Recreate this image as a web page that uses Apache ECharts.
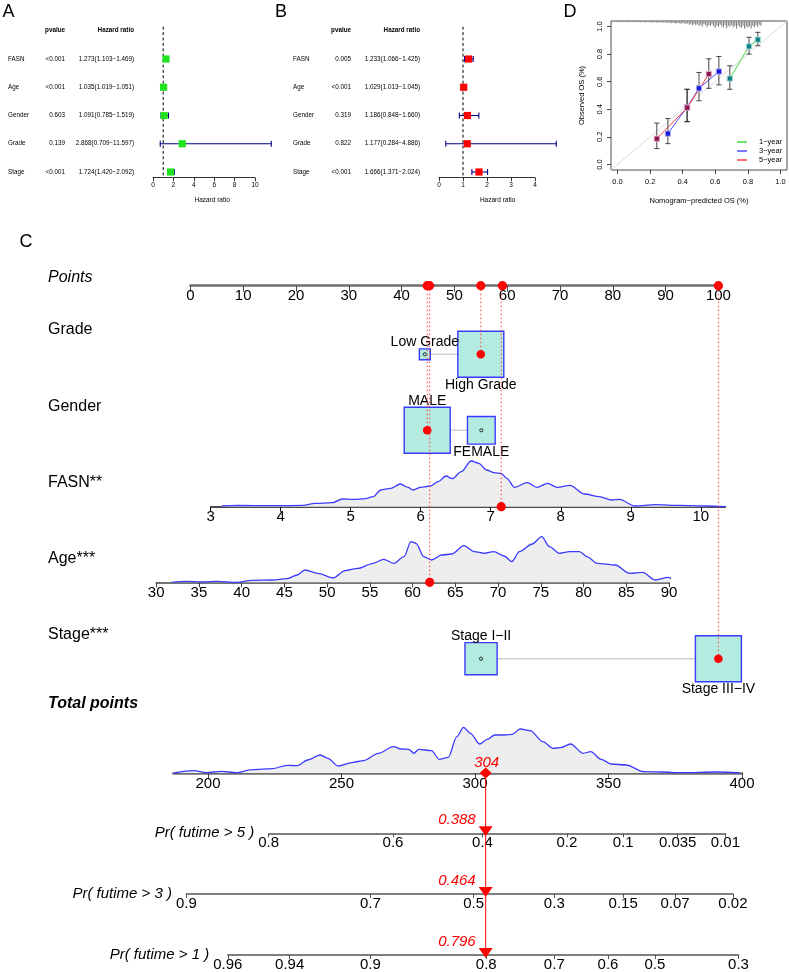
<!DOCTYPE html>
<html><head><meta charset="utf-8">
<script src="https://cdn.jsdelivr.net/npm/echarts@6/dist/echarts.min.js"></script>
<style>html,body{margin:0;padding:0;background:#fff;}#chart{width:789px;height:972px;}</style>
</head><body><div id="chart"></div>
<script>
// ================= DATA =================
// Panel A / B : forest plots
const forestVars = ['FASN','Age','Gender','Grade','Stage'];
const uniPvalue = ['<0.001','<0.001','0.603','0.139','<0.001'];
const uniHR   = [1.273,1.035,1.091,2.868,1.724];
const uniLow  = [1.103,1.019,0.785,0.709,1.420];
const uniHigh = [1.469,1.051,1.519,11.597,2.092];
const multiPvalue = ['0.005','<0.001','0.319','0.822','<0.001'];
const multiHR   = [1.233,1.029,1.186,1.177,1.666];
const multiLow  = [1.066,1.013,0.848,0.284,1.371];
const multiHigh = [1.425,1.045,1.660,4.886,2.024];
const uniTicks = [0,2,4,6,8,10];
const multiTicks = [0,1,2,3,4];

// Panel D : calibration
const calTicks = [0,0.2,0.4,0.6,0.8,1.0];
const cal1X = [0.689,0.807,0.861], cal1Y = [0.623,0.856,0.905], cal1Lo = [0.545,0.800,0.861], cal1Hi = [0.715,0.922,0.958];
const cal3X = [0.309,0.426,0.500,0.622], cal3Y = [0.224,0.414,0.552,0.674], cal3Lo = [0.151,0.309,0.462,0.577], cal3Hi = [0.333,0.545,0.667,0.783];
const cal5X = [0.241,0.428,0.560], cal5Y = [0.187,0.412,0.655], cal5Lo = [0.115,0.312,0.552], cal5Hi = [0.300,0.545,0.766];
const calNames = ['1−year','3−year','5−year'];
// spike histogram of predicted values (bins of 0.01 starting at 0)
const rugStart = 0, rugStep = 0.01;
const rugH = [0.003,0.002,0.004,0.002,0.003,0.002,0.005,0.003,0.002,0.004,0.003,
  0.002,0.004,0.003,0.005,0.002,0.003,0.006,0.004,0.003,0.005,
  0.004,0.006,0.003,0.005,0.007,0.004,0.006,0.008,0.005,0.007,
  0.009,0.006,0.012,0.008,0.010,0.014,0.009,0.011,0.016,0.010,
  0.013,0.018,0.012,0.022,0.015,0.028,0.017,0.024,0.020,0.030,
  0.022,0.035,0.018,0.026,0.040,0.024,0.030,0.019,0.033,0.045,
  0.028,0.038,0.022,0.034,0.042,0.026,0.048,0.030,0.036,0.025,
  0.040,0.032,0.050,0.028,0.038,0.045,0.030,0.052,0.036,0.042,
  0.034,0.048,0.030,0.040,0.026,0.038,0.022,0.030];

// Panel C : nomogram
const nomoLabels = ['Points','Grade','Gender','FASN**','Age***','Stage***','Total points'];
const pointsTicks = [0,10,20,30,40,50,60,70,80,90,100];
const gradeCats = ['Low Grade','High Grade'], gradePts = [44.4,55.0], gradeN = [20,355];
const genderCats = ['MALE','FEMALE'], genderPts = [44.85,55.1], genderN = [275,100];
const stageCats = ['Stage I−II','Stage III−IV'], stagePts = [55.05,100], stageN = [123,252];
const fasnTicks = [3,4,5,6,7,8,9,10];
const fasnX = [3.16,3.38,3.96,4.32,4.49,4.74,4.88,5.03,5.21,5.32,5.43,5.57,5.71,5.82,5.89,6.00,6.14,6.25,6.36,6.45,6.58,6.72,6.83,6.94,7.05,7.15,7.23,7.34,7.52,7.66,7.81,7.95,8.13,8.34,8.55,8.73,8.84,9.06,9.35,9.71,10.07,10.36];
const fasnD = [0.007,0.013,0.010,0.013,0.033,0.040,0.077,0.073,0.080,0.100,0.167,0.183,0.227,0.193,0.167,0.193,0.207,0.250,0.307,0.280,0.350,0.457,0.433,0.367,0.340,0.333,0.283,0.193,0.240,0.193,0.233,0.193,0.213,0.127,0.100,0.067,0.073,0.007,0.020,0.013,0.007,0.000];
const ageTicks = [30,35,40,45,50,55,60,65,70,75,80,85,90];
const ageX = [31.8,33.5,35.3,37.1,39.4,41.2,43.6,45.3,46.5,47.4,48.9,50.7,52.1,53.6,55.4,56.6,57.8,59.0,59.8,60.4,61.3,62.2,63.4,64.6,66.0,67.2,68.4,69.5,70.7,71.6,72.5,74.0,75.1,76.0,77.2,78.4,79.5,80.4,81.6,83.7,85.4,86.9,88.4,89.9,90.8,91.6];
const ageD = [0,0.010,0.003,0.010,0,0.020,0.023,0.037,0.073,0.123,0.090,0.043,0.117,0.140,0.190,0.230,0.190,0.257,0.407,0.390,0.257,0.223,0.273,0.283,0.367,0.307,0.290,0.307,0.263,0.207,0.307,0.383,0.457,0.357,0.290,0.307,0.307,0.257,0.190,0.173,0.090,0.100,0.023,0.050,0.023,0];
const totalTicks = [200,250,300,350,400];
const totX = [187.2,194.7,199.4,205.0,210.8,216.5,224.0,229.7,233.5,237.3,242.0,244.9,248.7,254.4,258.2,263.8,269.5,272.4,275.2,277.1,279.0,283.7,286.6,290.0,293.2,295.7,298.3,301.7,304.6,307.4,311.2,314.0,316.9,320.7,325.4,329.2,332.0,335.8,340.5,343.4,347.2,351.0,356.6,363.2,369.9,377.4,390.6,399.1];
const totD = [0,0.023,0.003,0.017,0.003,0.033,0.043,0.077,0.073,0.130,0.180,0.147,0.070,0.107,0.123,0.197,0.263,0.240,0.237,0.197,0.237,0.223,0.137,0.157,0.363,0.457,0.397,0.290,0.337,0.380,0.380,0.387,0.440,0.423,0.313,0.247,0.253,0.290,0.197,0.213,0.137,0.090,0.080,0.013,0.010,0.003,0.010,0];
// patient
const patientGrade = 'High Grade', patientGender = 'MALE', patientFASN = 7.15, patientAge = 62, patientStage = 'Stage III−IV';
const patientPoints = [55.0,44.85,59.1,45.3,100];
const patientTotal = 304;
// probability axes (positions in total-points units)
const pr5Labels = ['0.8','0.6','0.4','0.2','0.1','0.035','0.01'];
const pr5Pos = [222.7,269.3,302.8,334.4,355.5,375.9,393.8];
const pr3Labels = ['0.9','0.7','0.5','0.3','0.15','0.07','0.02'];
const pr3Pos = [191.9,260.8,299.5,329.7,355.5,374.9,396.6];
const pr1Labels = ['0.96','0.94','0.9','0.8','0.7','0.6','0.5','0.3'];
const pr1Pos = [207.4,230.6,260.8,304.2,329.7,349.8,367.4,398.7];
const prNames = ['Pr( futime > 5 )','Pr( futime > 3 )','Pr( futime > 1 )'];
const prPatient = [0.388,0.464,0.796];

// ================= HELPERS =================
const FONT = "'Liberation Sans', Arial, Helvetica, sans-serif";
const chart = echarts.init(document.getElementById('chart'));
const grids = [], xAxis = [], yAxis = [], series = [], graphic = [];
function addGrid(g, xa, ya){
  const i = grids.length;
  grids.push(Object.assign({show:false, containLabel:false, outerBoundsMode:'none'}, g));
  xa = Object.assign({type:'value', gridIndex:i, splitLine:{show:false}}, xa);
  ya = Object.assign({type:'value', gridIndex:i, splitLine:{show:false}}, ya);
  xa.axisLine = Object.assign({onZero:false}, xa.axisLine || {});
  ya.axisLine = Object.assign({onZero:false}, ya.axisLine || {});
  xAxis.push(xa); yAxis.push(ya);
  return i;
}
function txt(x, y, text, o){
  o = o || {};
  return {type:'text', x:x, y:y, z2:o.z2 || 10, style:{text:text, fill:o.fill || '#000', fontSize:o.size || 6.3, fontFamily:FONT,
    fontStyle:o.italic ? 'italic' : 'normal', fontWeight:o.bold ? 'bold' : 'normal', align:o.align || 'left', verticalAlign:o.va || 'middle'}};
}
function seg(x1, y1, x2, y2, stroke, w, dash){
  return {type:'line', shape:{x1:x1, y1:y1, x2:x2, y2:y2}, style:{stroke:stroke, lineWidth:w || 1, lineDash:dash || null, fill:null}};
}
function zip(a, b){ return a.map((v, i) => [v, b[i]]); }
function nearestIdx(arr, v){ let bi = 0; arr.forEach((p, i) => { if (Math.abs(p - v) < Math.abs(arr[bi] - v)) bi = i; }); return bi; }

// ================= PANELS A & B =================
const FP = {row0:59, step:28.25, top:26, bottom:177.7};
function forestPanel(c){
  const maxX = Math.max(...c.hi);
  const yMin = (FP.top - FP.row0) / FP.step, yMax = (FP.bottom - FP.row0) / FP.step;
  const yA = () => ({min:yMin, max:yMax, inverse:true, show:false});
  const h = FP.bottom - FP.top;
  const g = addGrid({left:c.left, top:FP.top, width:maxX * c.scale, height:h},
    {min:0, max:maxX, axisLine:{show:false}, axisTick:{show:false}, axisLabel:{show:false},
     name:'Hazard ratio', nameLocation:'middle', nameGap:19, nameTextStyle:{fontSize:6.5, color:'#000', fontFamily:FONT}}, yA());
  const tMax = c.ticks[c.ticks.length - 1];
  addGrid({left:c.left, top:FP.top, width:tMax * c.scale, height:h},
    {min:c.ticks[0], max:tMax, interval:c.ticks[1] - c.ticks[0],
     axisLine:{show:true, lineStyle:{color:'#000', width:0.8}},
     axisTick:{show:true, length:3.5, lineStyle:{color:'#000', width:0.8}},
     axisLabel:{show:true, fontSize:6.5, color:'#000', fontFamily:FONT, margin:4.5, hideOverlap:false}}, yA());
  series.push({type:'custom', xAxisIndex:g, yAxisIndex:g, silent:true, z:2, data:[[1]],
    renderItem:(p, api) => {
      const a = api.coord([api.value(0), yMin]), b = api.coord([api.value(0), yMax]);
      return seg(a[0], a[1] + 0.7, b[0], b[1], '#000', 1, [3, 2.4]);
    }});
  series.push({type:'custom', xAxisIndex:g, yAxisIndex:g, silent:true, z:3,
    data:c.hr.map((v, i) => [v, i, c.lo[i], c.hi[i]]),
    renderItem:(p, api) => {
      const y = api.value(1);
      const m = api.coord([api.value(0), y]), a = api.coord([api.value(2), y]), b = api.coord([api.value(3), y]);
      const s = 3.6, cap = 3, col = '#00008B';
      return {type:'group', children:[
        seg(a[0], m[1], b[0], m[1], col, 1.1), seg(a[0], m[1] - cap, a[0], m[1] + cap, col, 1.1),
        seg(b[0], m[1] - cap, b[0], m[1] + cap, col, 1.1),
        {type:'rect', shape:{x:m[0] - s, y:m[1] - s, width:2 * s, height:2 * s}, style:{fill:c.color}}]};
    }});
  series.push({type:'custom', xAxisIndex:g, yAxisIndex:g, silent:true, z:3,
    data:c.vars.map((v, i) => [0, i]).concat([[0, -1]]),
    renderItem:(p, api) => {
      const i = api.value(1), y = api.coord([0, i])[1];
      if (i < 0) return {type:'group', children:[txt(c.pX, y, 'pvalue', {bold:true, align:'right'}), txt(c.hrX, y, 'Hazard ratio', {bold:true, align:'right'})]};
      const t = c.hr[i].toFixed(3) + '(' + c.lo[i].toFixed(3) + '−' + c.hi[i].toFixed(3) + ')';
      return {type:'group', children:[txt(c.labX, y, c.vars[i]), txt(c.pX, y, c.p[i], {align:'right'}), txt(c.hrX, y, t, {align:'right'})]};
    }});
}
forestPanel({vars:forestVars, p:uniPvalue, hr:uniHR, lo:uniLow, hi:uniHigh, ticks:uniTicks, left:153, scale:10.2, color:'#1ee31e', labX:8, pX:65, hrX:134});
forestPanel({vars:forestVars, p:multiPvalue, hr:multiHR, lo:multiLow, hi:multiHigh, ticks:multiTicks, left:439, scale:24, color:'#ff0000', labX:293, pX:351, hrX:420});

// ================= PANEL D =================
const axTxt = {fontSize:7.5, color:'#000', fontFamily:FONT};
const gD = addGrid({show:true, left:611, top:21, width:176, height:149, borderColor:'#222', borderWidth:0.8, backgroundColor:'rgba(0,0,0,0)'},
  {min:-0.04, max:1.04, axisLine:{show:false},
   axisTick:{show:true, length:4, customValues:calTicks, lineStyle:{color:'#222', width:0.8}},
   axisLabel:Object.assign({show:true, customValues:calTicks, formatter:v => v.toFixed(1), margin:8, hideOverlap:false}, axTxt),
   name:'Nomogram−predicted OS (%)', nameLocation:'middle', nameGap:27, nameTextStyle:axTxt},
  {min:-0.04, max:1.04, axisLine:{show:false},
   axisTick:{show:true, length:4, customValues:calTicks, lineStyle:{color:'#222', width:0.8}},
   axisLabel:Object.assign({show:true, customValues:calTicks, formatter:v => v.toFixed(1), margin:7, rotate:90, hideOverlap:false}, axTxt),
   name:'Observed OS (%)', nameLocation:'middle', nameGap:25, nameTextStyle:axTxt});
series.push({type:'custom', xAxisIndex:gD, yAxisIndex:gD, silent:true, z:1, data:[[-0.04, 1.04]],
  renderItem:(p, api) => { const a = api.coord([api.value(0), api.value(0)]), b = api.coord([api.value(1), api.value(1)]); return seg(a[0], a[1], b[0], b[1], '#dcdcdc', 1); }});
series.push({type:'custom', xAxisIndex:gD, yAxisIndex:gD, silent:true, z:2,
  data:rugH.map((h, i) => [rugStart + i * rugStep, h]),
  renderItem:(p, api) => { const a = api.coord([api.value(0), 1.035]), b = api.coord([api.value(0), 1.035 - api.value(1)]); return seg(a[0], a[1], b[0], b[1], '#555', 0.8); }});
const calGroups = [
  {name:calNames[0], x:cal1X, y:cal1Y, lo:cal1Lo, hi:cal1Hi, line:'#3ddc3d', fill:'#127f88', edge:'#9fd9d2'},
  {name:calNames[1], x:cal3X, y:cal3Y, lo:cal3Lo, hi:cal3Hi, line:'#4d4dff', fill:'#1818d8', edge:'#a9a9f2'},
  {name:calNames[2], x:cal5X, y:cal5Y, lo:cal5Lo, hi:cal5Hi, line:'#ff3c3c', fill:'#8a1250', edge:'#e3a6bf'}];
calGroups.forEach(gp => {
  series.push({type:'line', name:gp.name, xAxisIndex:gD, yAxisIndex:gD, data:zip(gp.x, gp.y), symbol:'none', silent:true, z:3,
    lineStyle:{color:gp.line, width:1}, itemStyle:{color:gp.line}});
});
calGroups.forEach(gp => {
  series.push({type:'custom', xAxisIndex:gD, yAxisIndex:gD, silent:true, z:4,
    data:gp.x.map((x, i) => [x, gp.y[i], gp.lo[i], gp.hi[i]]),
    renderItem:(p, api) => {
      const x = api.value(0);
      const m = api.coord([x, api.value(1)]), lo = api.coord([x, api.value(2)]), hi = api.coord([x, api.value(3)]);
      const w = 2.6, s = 2.6;
      return {type:'group', children:[
        seg(m[0], lo[1], m[0], hi[1], '#333', 0.9), seg(m[0] - w, lo[1], m[0] + w, lo[1], '#333', 0.9), seg(m[0] - w, hi[1], m[0] + w, hi[1], '#333', 0.9),
        {type:'rect', shape:{x:m[0] - s, y:m[1] - s, width:2 * s, height:2 * s}, style:{fill:gp.fill, stroke:gp.edge, lineWidth:1}}]};
    }});
});

// ================= PANEL C (nomogram) =================
const PTS = {left:190.4, width:528, y:285.7};
const ROWY = {Grade:354.3, Gender:430.3, FASN:506.7, Age:582.3, Stage:658.7, Total:773, Pr:[833.3, 894, 955]};
const BOX_MAX = 46;
const RED = '#ff0000', DOT = '#ff3a3a';
const tickTxt = {fontSize:15, color:'#000', fontFamily:FONT};
const gP = addGrid({left:PTS.left, top:PTS.y - 10, width:PTS.width, height:10},
  {min:pointsTicks[0], max:pointsTicks[pointsTicks.length - 1], interval:pointsTicks[1] - pointsTicks[0],
   axisLine:{show:true, lineStyle:{color:'#6f6f6f', width:2.5}}, axisTick:{show:true, length:6, lineStyle:{color:'#444', width:1}},
   axisLabel:Object.assign({show:true, margin:3, hideOverlap:false}, tickTxt)}, {min:0, max:1, show:false});
series.push({type:'custom', xAxisIndex:gP, yAxisIndex:gP, silent:true, z:8, data:patientPoints.map(v => [v, 0]),
  renderItem:(p, api) => { const c = api.coord([api.value(0), 0]); return {type:'circle', shape:{cx:c[0], cy:c[1], r:4.6}, style:{fill:RED}}; }});

function patientMark(g, xVal, dotR){
  series.push({type:'custom', xAxisIndex:g, yAxisIndex:g, silent:true, z:8, data:[[xVal, 0]],
    renderItem:(p, api) => {
      const c = api.coord([api.value(0), 0]);
      return {type:'group', children:[seg(c[0], PTS.y, c[0], c[1], DOT, 1, [1.5, 2.5]),
        {type:'circle', shape:{cx:c[0], cy:c[1], r:dotR || 4.6}, style:{fill:RED}}]};
    }});
}
function catRow(rowY, cats, pts, counts, chosen){
  const g = addGrid({left:PTS.left, top:rowY - 10, width:PTS.width, height:10}, {min:0, max:100, show:false}, {min:0, max:1, show:false});
  const maxN = Math.max(...counts);
  series.push({type:'custom', xAxisIndex:g, yAxisIndex:g, silent:true, z:2, data:[[Math.min(...pts), Math.max(...pts)]],
    renderItem:(p, api) => { const a = api.coord([api.value(0), 0]), b = api.coord([api.value(1), 0]); return seg(a[0], a[1], b[0], b[1], '#cfcfcf', 1.6); }});
  series.push({type:'custom', xAxisIndex:g, yAxisIndex:g, silent:true, z:3,
    data:cats.map((c, i) => [pts[i], 0, counts[i], i]),
    renderItem:(p, api) => {
      const c = api.coord([api.value(0), 0]), i = api.value(3);
      const s = BOX_MAX * Math.sqrt(api.value(2) / maxN) / 2;
      const ch = [{type:'rect', shape:{x:c[0] - s, y:c[1] - s, width:2 * s, height:2 * s}, style:{fill:'#b3ebe1', stroke:'#3a3aff', lineWidth:1.4}}];
      if (cats[i] !== chosen) ch.push({type:'circle', shape:{cx:c[0], cy:c[1], r:1.6}, style:{fill:'none', stroke:'#000', lineWidth:0.8}});
      ch.push(i === 0 ? txt(c[0], c[1] - s + 0.5, cats[i], {size:14, align:'center', va:'bottom'})
                      : txt(c[0], c[1] + s + 0.5, cats[i], {size:14, align:'center', va:'top'}));
      return {type:'group', children:ch};
    }});
  patientMark(g, pts[cats.indexOf(chosen)], 4.3);
}
catRow(ROWY.Grade, gradeCats, gradePts, gradeN, patientGrade);
catRow(ROWY.Gender, genderCats, genderPts, genderN, patientGender);

function densRow(rowY, left, unit, min, max, ticks, xs, ds, axisColor, axisW, patientVal){
  const g = addGrid({left:left, top:rowY - 50, width:(max - min) * unit, height:50},
    {min:min, max:max, axisLine:{show:true, lineStyle:{color:axisColor, width:axisW}},
     axisTick:{show:true, length:5, customValues:ticks, lineStyle:{color:axisColor, width:1}},
     axisLabel:Object.assign({show:true, customValues:ticks, margin:3, hideOverlap:false}, tickTxt)},
    {min:0, max:0.5, show:false});
  series.push({type:'line', xAxisIndex:g, yAxisIndex:g, data:zip(xs, ds), symbol:'none', smooth:0.3, smoothMonotone:'x', clip:false, silent:true, z:2,
    lineStyle:{color:'#3b3bff', width:1.3}, areaStyle:{color:'#eeeeee', opacity:1}});
  if (patientVal !== undefined) patientMark(g, patientVal, 4.6);
  return g;
}
densRow(ROWY.FASN, 210.6, 70.03, 3, 10.35, fasnTicks, fasnX, fasnD, '#111', 1.5, patientFASN);
densRow(ROWY.Age, 156.2, 8.547, 30, 90, ageTicks, ageX, ageD, '#444', 1.5, patientAge);
catRow(ROWY.Stage, stageCats, stagePts, stageN, patientStage);

const TOT = {min:187, max:400, unit:2.67, left:208 - 13 * 2.67};
const gT = addGrid({left:TOT.left, top:ROWY.Total - 50, width:(TOT.max - TOT.min) * TOT.unit, height:50},
  {min:TOT.min, max:TOT.max, axisLine:{show:true, lineStyle:{color:'#6f6f6f', width:2.5}},
   axisTick:{show:true, length:5, customValues:totalTicks, lineStyle:{color:'#444', width:1}},
   axisLabel:Object.assign({show:true, customValues:totalTicks, margin:3, hideOverlap:false}, tickTxt)},
  {min:0, max:0.5, show:false});
series.push({type:'line', xAxisIndex:gT, yAxisIndex:gT, data:zip(totX, totD), symbol:'none', smooth:0.3, smoothMonotone:'x', clip:false, silent:true, z:2,
  lineStyle:{color:'#3b3bff', width:1.3}, areaStyle:{color:'#eeeeee', opacity:1}});
series.push({type:'custom', xAxisIndex:gT, yAxisIndex:gT, silent:true, z:8, data:[[patientTotal, 0]],
  renderItem:(p, api) => {
    const c = api.coord([api.value(0), 0]);
    return {type:'group', children:[
      seg(c[0], c[1], c[0], ROWY.Pr[2], RED, 1),
      {type:'polygon', shape:{points:[[c[0], c[1] - 5.5], [c[0] + 6, c[1]], [c[0], c[1] + 5.5], [c[0] - 6, c[1]]]}, style:{fill:RED}},
      txt(c[0] + 1, c[1] - 10, String(api.value(0)), {size:15, italic:true, fill:RED, align:'center'})]};
  }});

const prAxes = [
  {name:prNames[0], pos:pr5Pos, labels:pr5Labels, prob:prPatient[0], y:ROWY.Pr[0]},
  {name:prNames[1], pos:pr3Pos, labels:pr3Labels, prob:prPatient[1], y:ROWY.Pr[1]},
  {name:prNames[2], pos:pr1Pos, labels:pr1Labels, prob:prPatient[2], y:ROWY.Pr[2]}];
prAxes.forEach(pr => {
  const lo = pr.pos[0], hi = pr.pos[pr.pos.length - 1];
  const g = addGrid({left:TOT.left + (lo - TOT.min) * TOT.unit, top:pr.y - 10, width:(hi - lo) * TOT.unit, height:10},
    {min:lo, max:hi, axisLine:{show:true, lineStyle:{color:'#555', width:1.5}},
     axisTick:{show:true, length:4, customValues:pr.pos, lineStyle:{color:'#555', width:1}},
     axisLabel:Object.assign({show:true, customValues:pr.pos, margin:2, hideOverlap:false, formatter:v => pr.labels[nearestIdx(pr.pos, v)]}, tickTxt),
     name:pr.name, nameLocation:'start', nameGap:4, nameTextStyle:{fontSize:15, fontStyle:'italic', color:'#000', fontFamily:FONT}},
    {min:0, max:1, show:false});
  series.push({type:'custom', xAxisIndex:g, yAxisIndex:g, silent:true, z:8, data:[[patientTotal, 0, pr.prob]],
    renderItem:(p, api) => {
      const c = api.coord([api.value(0), 0]);
      return {type:'group', children:[
        {type:'polygon', shape:{points:[[c[0] - 7, c[1] - 7], [c[0] + 7, c[1] - 7], [c[0], c[1] + 3]]}, style:{fill:RED}},
        txt(c[0] - 10, c[1] - 13, api.value(2).toFixed(3), {size:15, italic:true, fill:RED, align:'right'})]};
    }});
});

// row labels & panel letters
const labelY = [277.7, 330, 406.7, 482.7, 558.3, 635, 704];
nomoLabels.forEach((t, i) => {
  graphic.push(txt(48, labelY[i], t, {size:16, italic:(i === 0 || i === 6), bold:(i === 6)}));
});
[['A', 8.5, 12], ['B', 281, 12], ['D', 570, 12], ['C', 26, 242]].forEach(l => graphic.push(txt(l[1], l[2], l[0], {size:18, align:'center'})));

chart.setOption({
  animation:false,
  backgroundColor:'#ffffff',
  textStyle:{fontFamily:FONT},
  grid:grids, xAxis:xAxis, yAxis:yAxis, series:series,
  legend:{show:true, data:calNames, orient:'vertical', left:737, top:137.5, itemWidth:10, itemHeight:1.5, itemGap:0, icon:'rect', selectedMode:false, padding:0,
    textStyle:{fontSize:7.5, fontFamily:FONT, color:'#000', lineHeight:9, padding:[0, 0, 0, 7]}},
  graphic:graphic
});
</script></body></html>
